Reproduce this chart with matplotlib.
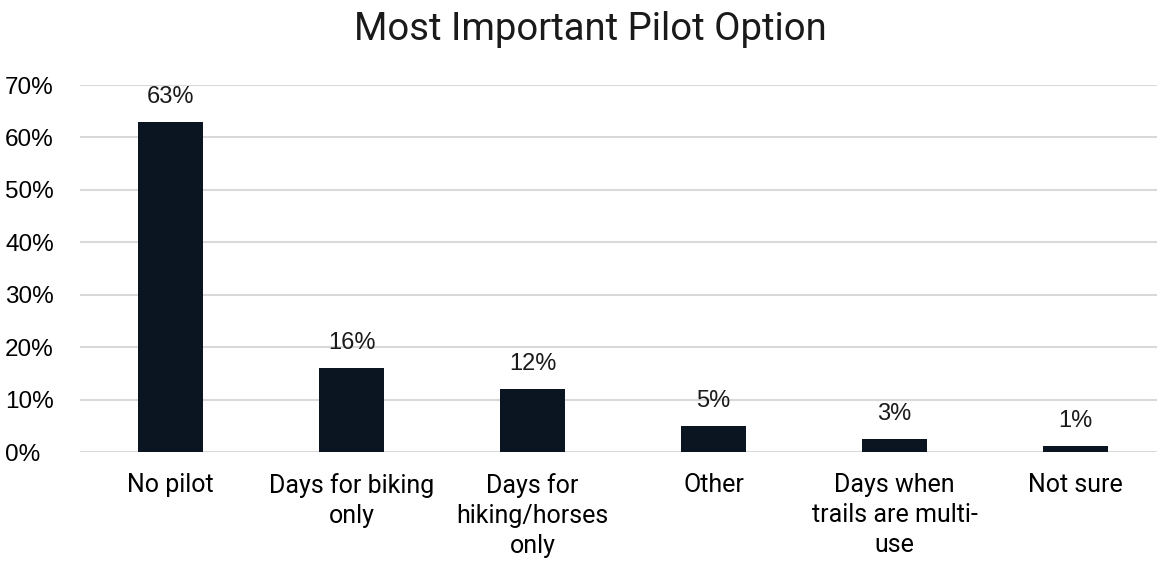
import matplotlib.pyplot as plt
from matplotlib.ticker import PercentFormatter

categories = ["No pilot", "Days for biking\nonly", "Days for\nhiking/horses\nonly",
              "Other", "Days when\ntrails are multi-\nuse", "Not sure"]
shares = [0.63, 0.16, 0.12, 0.05, 0.025, 0.012]
labels = ["63%", "16%", "12%", "5%", "3%", "1%"]

bar_color = "#0B1521"

fig = plt.figure(figsize=(11.57, 5.63), dpi=100)
ax = fig.add_axes([80 / 1157, 0.197, 1 - 80 / 1157, 0.652])

x = range(len(categories))
bars = ax.bar(x, shares, width=0.355, color=bar_color, zorder=3)

for b, lab in zip(bars, labels):
    ax.annotate(lab, (b.get_x() + b.get_width() / 2, b.get_height()),
                xytext=(0, 10), textcoords="offset points", ha="center", va="bottom",
                fontsize=17, family="Liberation Sans", color="#1a1a1a")

ax.set_ylim(0, 0.7)
ax.set_xlim(-0.5, 5.45)
ax.set_yticks([i / 10 for i in range(8)])
ax.yaxis.set_major_formatter(PercentFormatter(1.0, decimals=0))
ax.set_xticks(list(x))
ax.set_xticklabels(categories, fontsize=18, family="Roboto", linespacing=1.32, va="top")
for t in ax.get_yticklabels():
    t.set_fontsize(17.5)
    t.set_family("Liberation Sans")

ax.grid(axis="y", color="#D9D9D9", linewidth=1.5, zorder=0)
ax.tick_params(length=0)
ax.tick_params(axis="x", pad=15)
ax.tick_params(axis="y", pad=54)
for t in ax.get_yticklabels():
    t.set_horizontalalignment("left")
for s in ax.spines.values():
    s.set_visible(False)

fig.text(590 / 1157, 1 - 29 / 563, "Most Important Pilot Option", ha="center", va="center",
         fontsize=27.5, family="Roboto", color="#1a1a1a")

fig.savefig("out.png", dpi=100)
